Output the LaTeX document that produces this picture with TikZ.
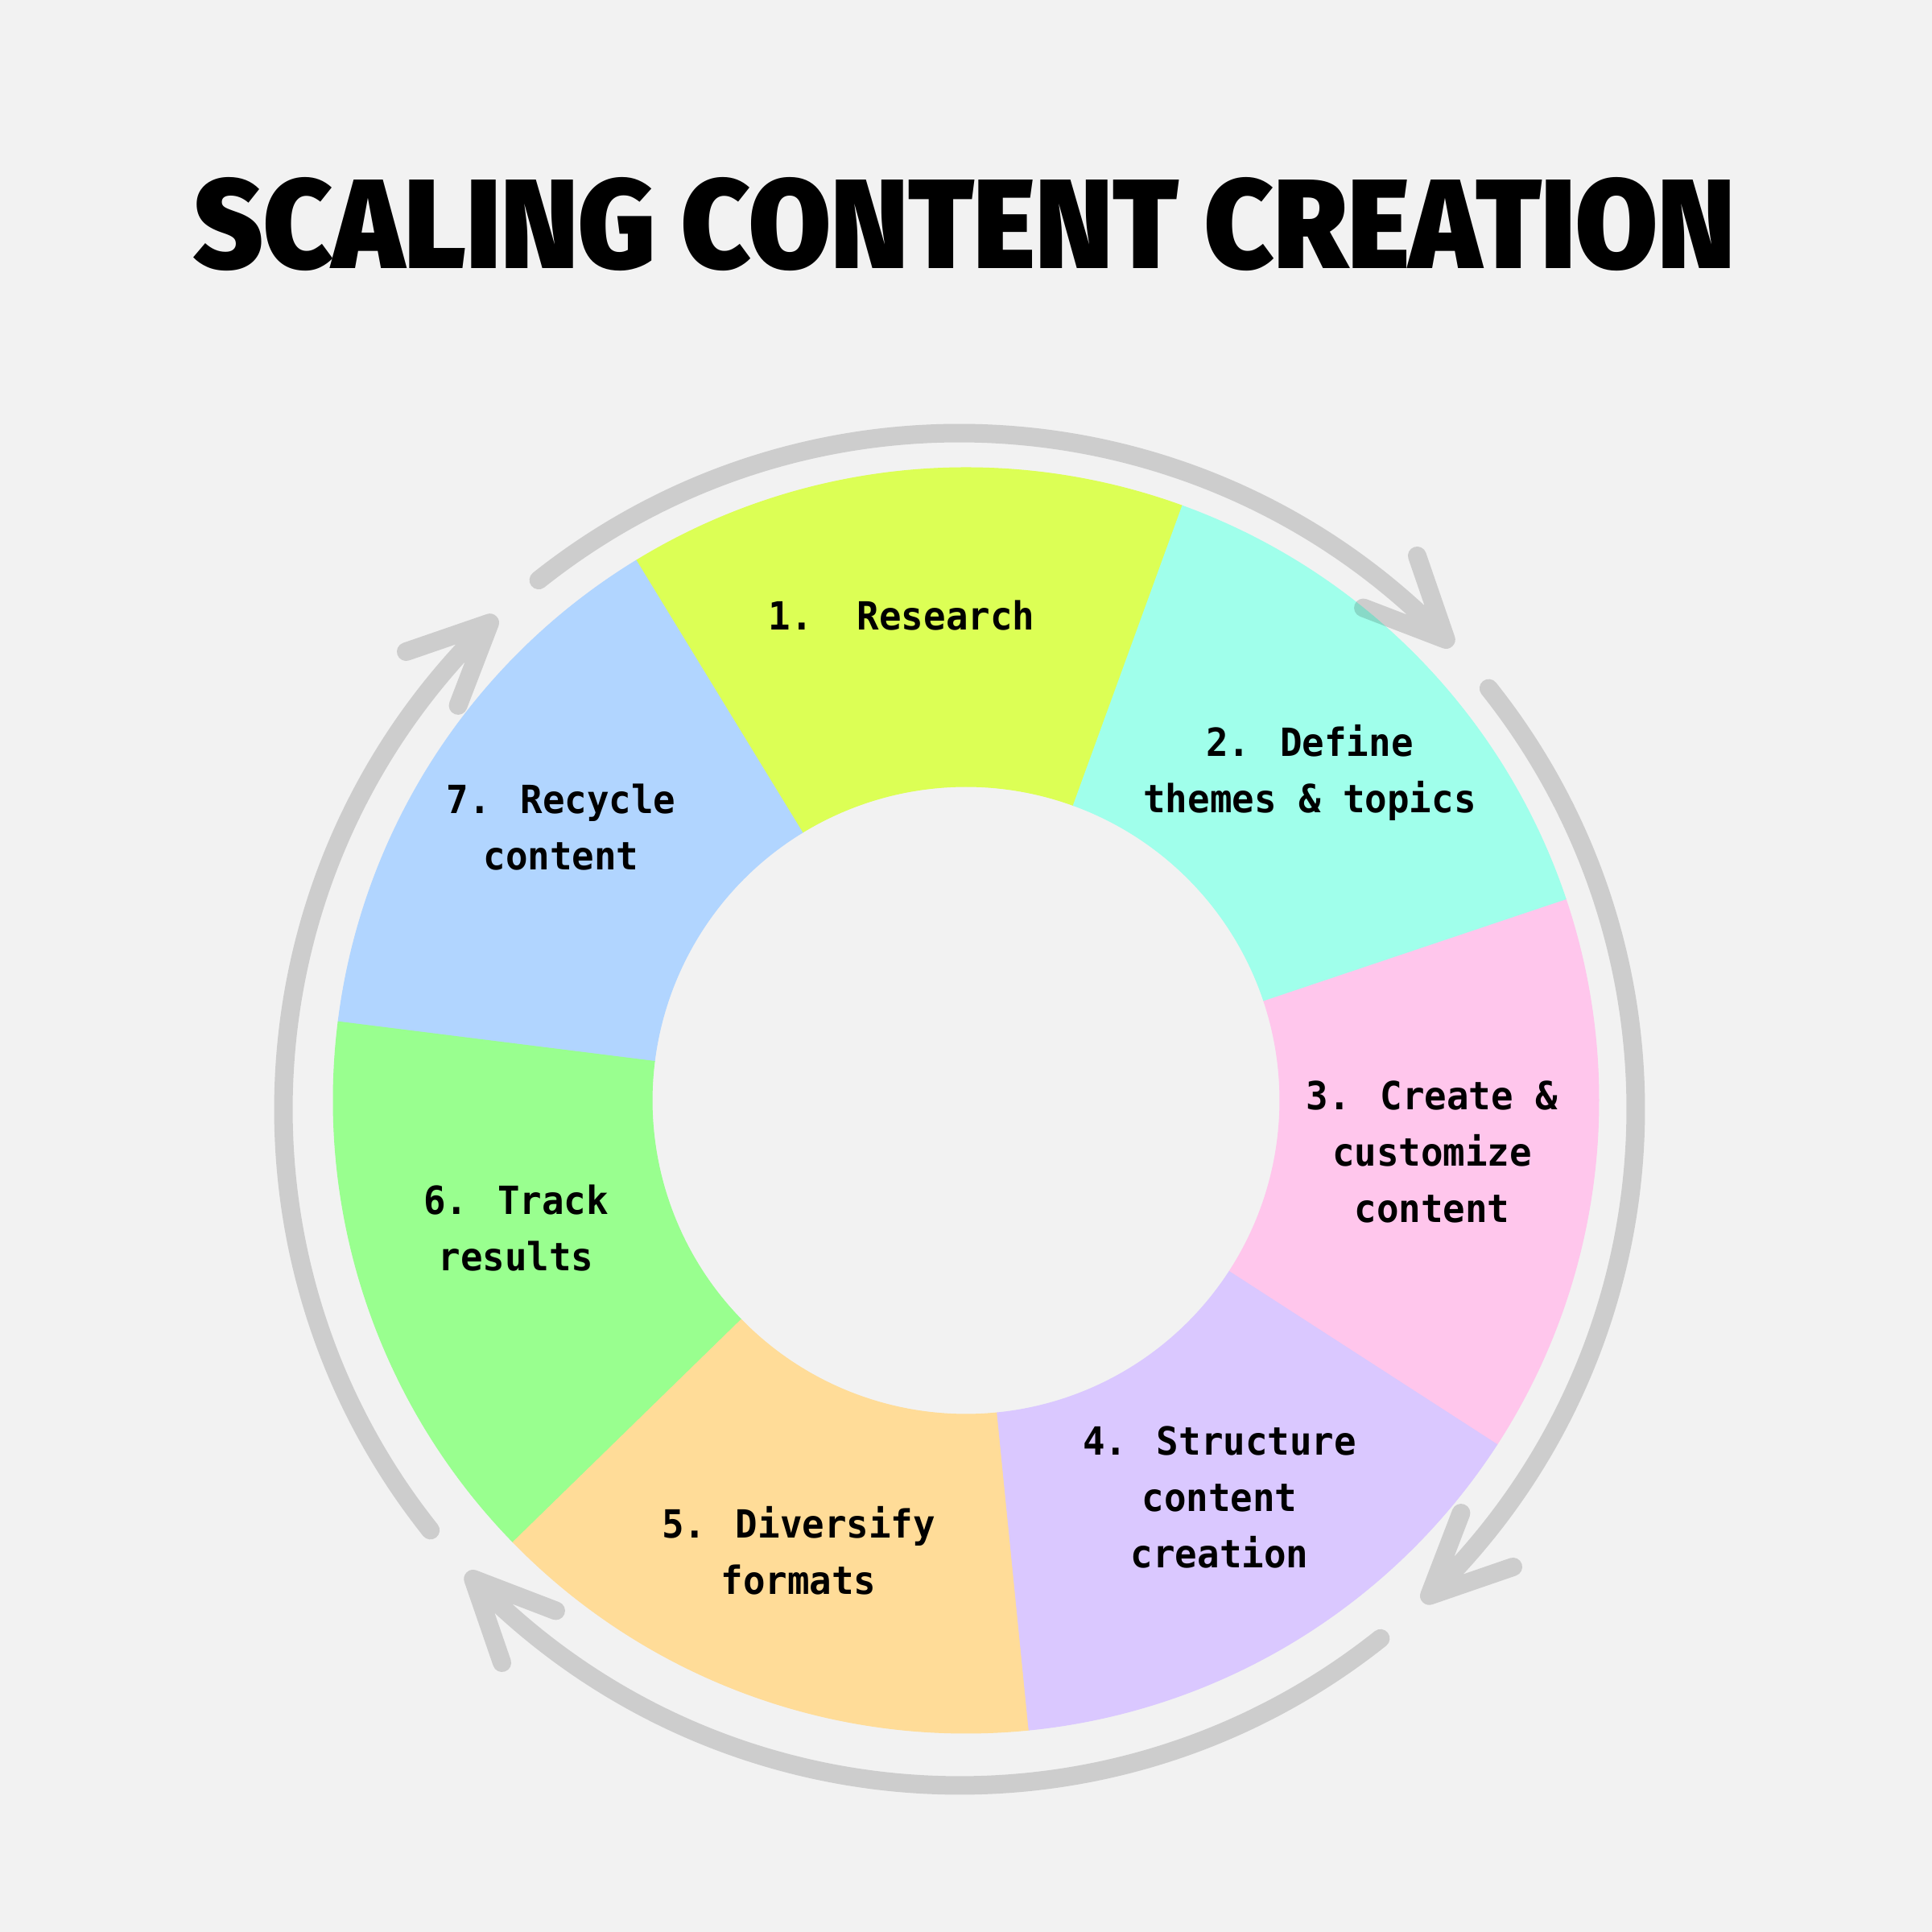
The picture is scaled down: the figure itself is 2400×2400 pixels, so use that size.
\documentclass[tikz,border=0pt]{standalone}
\usepackage{fontspec}
\usetikzlibrary{calc}
\newfontfamily\labfont{DejaVu Sans Mono}[FakeStretch=0.95]
\newfontfamily\titlefont{Fira Sans Black}
\definecolor{bgc}{HTML}{F2F2F2}
\definecolor{cA}{HTML}{DCFF55}
\definecolor{cB}{HTML}{A0FFEB}
\definecolor{cC}{HTML}{FFC6EC}
\definecolor{cD}{HTML}{DAC8FF}
\definecolor{cE}{HTML}{FFDC98}
\definecolor{cF}{HTML}{99FF8F}
\definecolor{cG}{HTML}{B1D5FF}
\tikzset{
  cyc/.style={draw=black, draw opacity=0.15, line width=0.23cm, line cap=round, line join=round},
  lab/.style={font=\labfont\bfseries\fontsize{13.7pt}{19.9pt}\selectfont, align=center, inner sep=0pt, text=black},
}
\newcommand{\ringseg}[3]{%
  \fill[#3, draw=#3, line width=0.3pt] ($(rc)+(#1:786)$) arc[start angle=#1, end angle=#2, radius=786]
    -- ($(rc)+(#2:390)$) arc[start angle=#2, end angle=#1, radius=390] -- cycle;}
\newcommand{\cyclearrow}[3]{%
  \coordinate (#3s) at ($(ac)+(#1:840)$);
  \coordinate (#3e) at ($(ac)+(#2:840)$);
  \draw[cyc] (#3s) arc[start angle=#1, end angle=#2, radius=840]
    ($(#3e)+(#2+65:110)$) -- (#3e) -- ($(#3e)+(#2+115:110)$);}
\begin{document}
\begin{tikzpicture}[x=0.01cm,y=0.01cm]
\useasboundingbox (0,0) rectangle (2400,2400);
\fill[bgc] (0,0) rectangle (2400,2400);
\coordinate (rc) at (1200,1033);
\coordinate (ac) at (1192,1022);
% ring segments
\ringseg{70}{121.4286}{cA}
\ringseg{121.4286}{172.8571}{cG}
\ringseg{172.8571}{224.2857}{cF}
\ringseg{224.2857}{275.7143}{cE}
\ringseg{275.7143}{327.1429}{cD}
\ringseg{327.1429}{378.5714}{cC}
\ringseg{18.5714}{70}{cB}
% cycle arrows
\cyclearrow{128.5}{44}{aA}
\cyclearrow{38.5}{-46}{aB}
\cyclearrow{-51.5}{-136}{aC}
\cyclearrow{-141.5}{-226}{aD}
% title
\node[inner sep=0pt] (t) at (1198,2121) {\resizebox{19.13cm}{1.13cm}{\titlefont SCALING CONTENT CREATION}};
% labels
\node[lab] (l1) at (1120,1635) {1.\ \ Research};
\node[lab] (l2) at (1627,1440) {2. Define\\themes \& topics};
\node[lab] (l3) at (1779,969) {3. Create \&\\customize\\content};
\node[lab] (l4) at (1515,540) {4. Structure\\content\\creation};
\node[lab] (l5) at (992,474) {5. Diversify\\formats};
\node[lab] (l6) at (641,874) {6. Track\\results};
\node[lab] (l7) at (697,1372) {7. Recycle\\content};
\end{tikzpicture}
\end{document}
